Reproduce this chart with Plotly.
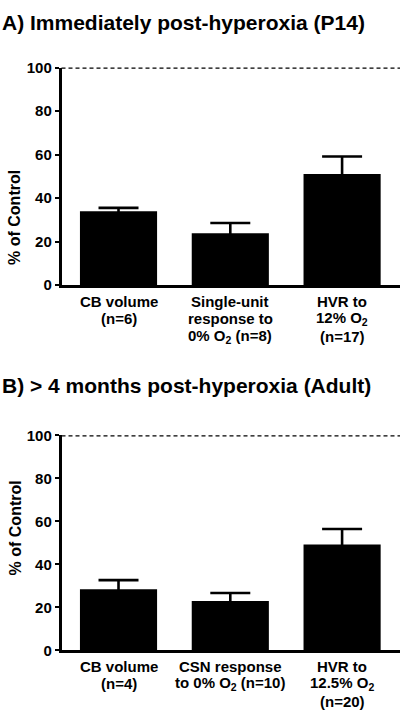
import plotly.graph_objects as go

H = 719.0
W = 400.0

# ---- data ----
categories = ["c1", "c2", "c3"]
a_means = [33.9, 23.8, 51.1]
a_errs = [1.6, 4.7, 8.0]
b_means = [28.5, 23.0, 49.3]
b_errs = [4.2, 3.7, 7.2]
a_labels = [["CB volume", "(n=6)"],
            ["Single-unit", "response to", "0% O<sub>2</sub> (n=8)"],
            ["HVR to", "12% O<sub>2</sub>", "(n=17)"]]
b_labels = [["CB volume", "(n=4)"],
            ["CSN response", "to 0% O<sub>2</sub> (n=10)"],
            ["HVR to", "12.5% O<sub>2</sub>", "(n=20)"]]
y_ticks = [0, 20, 40, 60, 80, 100]
title_a = "A) Immediately post-hyperoxia (P14)"
title_b = "B) > 4 months post-hyperoxia (Adult)"
y_title = "% of Control"

FONT = "Liberation Sans, Arial, Helvetica, sans-serif"

def py(p):
    return 1 - p / H

fig = go.Figure()
xs = [0, 1, 2]
for i, (means, errs) in enumerate([(a_means, a_errs), (b_means, b_errs)]):
    sfx = "" if i == 0 else "2"
    fig.add_trace(go.Bar(
        x=xs, y=means, width=0.69,
        marker=dict(color="black", line=dict(width=0)),
        # the lower half of the bar falls inside the black bar, so only the upper whisker shows
        error_y=dict(type="data", symmetric=True, array=errs, color="black",
                     thickness=2.6, width=20),
        xaxis="x" + sfx, yaxis="y" + sfx, showlegend=False,
        hoverinfo="skip",
    ))

xdom = [61.5 / W, 1.0]
xr = [-0.51, 2.518]
common_x = dict(domain=xdom, range=xr, showline=True, linecolor="black",
                linewidth=2.5, ticks="", showticklabels=False,
                showgrid=False, zeroline=False)
common_y = dict(range=[0, 100], showline=True, linecolor="black",
                linewidth=2.5, ticks="outside", ticklen=4, tickwidth=2,
                tickcolor="black", tickvals=y_ticks, showgrid=False,
                zeroline=False,
                tickfont=dict(family=FONT, size=15, color="black", weight="bold"))

fig.update_layout(
    width=400, height=719,
    margin=dict(l=0, r=0, t=0, b=0),
    plot_bgcolor="white", paper_bgcolor="white",
    bargap=0.3,
    xaxis=dict(anchor="y", **common_x),
    xaxis2=dict(anchor="y2", **common_x),
    yaxis=dict(anchor="x", domain=[py(282.7), py(60)], **common_y),
    yaxis2=dict(anchor="x2", domain=[py(657), py(436.7)], **common_y),
)

# dashed 100% reference lines
for sfx in ["", "2"]:
    fig.add_shape(type="line", xref="x" + sfx + " domain", yref="y" + sfx,
                  x0=0, x1=1, y0=100, y1=100,
                  line=dict(color="black", width=2.2, dash="4px,3px"))

ann = []
# category labels (one annotation per line)
for sfx, labels, first, step in [("", a_labels, 299.5, 18.0), ("2", b_labels, 673.0, 18.3)]:
    for xi, lines in zip(xs, labels):
        for k, line in enumerate(lines):
            ann.append(dict(x=xi, xref="x" + sfx, y=py(first + k * step), yref="paper",
                            text=line, showarrow=False, xanchor="center", yanchor="middle",
                            font=dict(family=FONT, size=15, color="black", weight="bold")))

# panel titles
for txt, yc in [(title_a, 14), (title_b, 386)]:
    ann.append(dict(x=0, xref="paper", y=py(yc), yref="paper", text=txt,
                    showarrow=False, xanchor="left", yanchor="middle",
                    font=dict(family=FONT, size=21, color="black", weight="bold")))

# y axis titles
for yc in [214, 532]:
    ann.append(dict(x=15 / W, xref="paper", y=py(yc), yref="paper", text=y_title,
                    textangle=-90, showarrow=False, xanchor="center", yanchor="middle",
                    font=dict(family=FONT, size=16, color="black", weight="bold")))

fig.update_layout(annotations=ann)
fig.write_html("out.html", config={"displayModeBar": False},
               post_script="document.body.style.margin='0';")
